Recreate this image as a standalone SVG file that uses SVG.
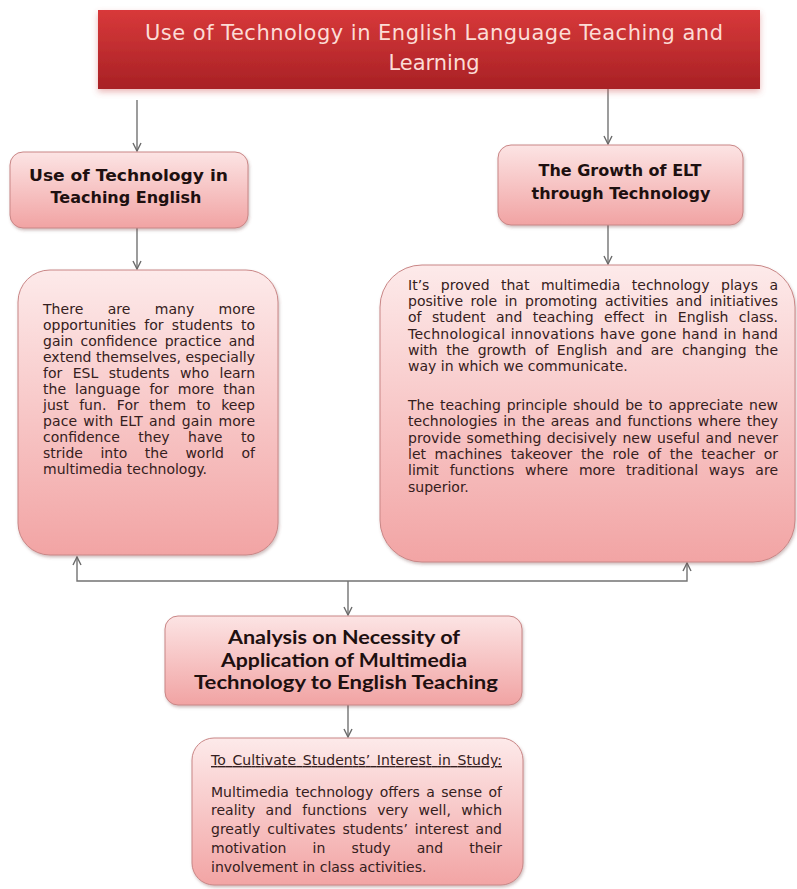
<svg xmlns="http://www.w3.org/2000/svg" width="797" height="889" viewBox="0 0 797 889">
  <style>
    .title { font-family: "DejaVu Sans", Verdana, sans-serif; font-size: 21px; fill: #fcdcd6; }
    .head { font-family: "DejaVu Sans", Verdana, sans-serif; font-size: 16px; font-weight: bold; fill: #1e1010; }
    .head3 { font-family: Lato, "Liberation Sans", sans-serif; font-size: 19px; font-weight: bold; fill: #1e1010; }
    .body { font-family: "DejaVu Sans", Verdana, sans-serif; font-size: 14px; fill: #352020; }
    .node { stroke: #c98686; stroke-width: 1; filter: url(#shadow); }
    .conn { fill: none; stroke: #737373; stroke-width: 1.4; }
  </style>
  <defs>
    <linearGradient id="redBar" x1="0" y1="0" x2="0" y2="1">
      <stop offset="0" stop-color="#d8393a"/>
      <stop offset="1" stop-color="#a82125"/>
    </linearGradient>
    <linearGradient id="pinkSmall" x1="0" y1="0" x2="0" y2="1">
      <stop offset="0" stop-color="#fce4e4"/>
      <stop offset="1" stop-color="#f1a3a3"/>
    </linearGradient>
    <linearGradient id="pinkLarge" x1="0" y1="0" x2="0" y2="1">
      <stop offset="0" stop-color="#fdeaea"/>
      <stop offset="1" stop-color="#f2a4a4"/>
    </linearGradient>
    <filter id="shadow" x="-10%" y="-10%" width="125%" height="130%">
      <feDropShadow dx="1" dy="2" stdDeviation="1.8" flood-color="#7a4a4a" flood-opacity="0.35"/>
    </filter>
    <filter id="barShadow" x="-5%" y="-20%" width="110%" height="150%">
      <feDropShadow dx="0" dy="3" stdDeviation="3" flood-color="#d06060" flood-opacity="0.45"/>
    </filter>
    <marker id="arrow" viewBox="0 0 10 10" refX="9" refY="5" markerWidth="10" markerHeight="10" markerUnits="userSpaceOnUse" orient="auto">
      <path d="M1,1 L9,5 L1,9" fill="none" stroke="#6b6b6b" stroke-width="1.4"/>
    </marker>
  </defs>

  <rect width="797" height="889" fill="#ffffff"/>

  <!-- connectors -->
  <g id="connectors" class="conn">
    <path d="M137,100 V151" marker-end="url(#arrow)"/>
    <path d="M608,89 V144" marker-end="url(#arrow)"/>
    <path d="M137,228 V269" marker-end="url(#arrow)"/>
    <path d="M608,225 V264" marker-end="url(#arrow)"/>
    <path d="M348,581 H77 V557" marker-end="url(#arrow)"/>
    <path d="M348,581 H687 V563" marker-end="url(#arrow)"/>
    <path d="M348,581 V615" marker-end="url(#arrow)"/>
    <path d="M348,705 V737" marker-end="url(#arrow)"/>
  </g>

  <!-- title bar -->
  <g id="title">
    <rect x="98" y="10" width="662" height="79" fill="url(#redBar)" filter="url(#barShadow)"/>
    <text class="title" x="145" y="40" textLength="578" lengthAdjust="spacing">Use of Technology in English Language Teaching and</text>
    <text class="title" x="434" y="70" text-anchor="middle">Learning</text>
  </g>

  <!-- left heading -->
  <g id="tech-teaching">
    <rect class="node" x="10" y="152" width="238" height="76" rx="13" fill="url(#pinkSmall)"/>
    <text class="head" x="29" y="181" textLength="199" lengthAdjust="spacingAndGlyphs">Use of Technology in</text>
    <text class="head" x="126" y="203" text-anchor="middle">Teaching English</text>
  </g>

  <!-- right heading -->
  <g id="growth-elt">
    <rect class="node" x="498" y="145" width="245" height="80" rx="13" fill="url(#pinkSmall)"/>
    <text class="head" x="620" y="176" text-anchor="middle">The Growth of ELT</text>
    <text class="head" x="621" y="199" text-anchor="middle">through Technology</text>
  </g>

  <!-- left detail box: justified lines use word-spacing, textLength trims the rest -->
  <g id="opportunities">
    <rect class="node" x="18" y="270" width="260" height="285" rx="32" fill="url(#pinkLarge)"/>
    <text class="body" x="43" y="314" word-spacing="19.8" textLength="212" lengthAdjust="spacing">There are many more</text>
    <text class="body" x="43" y="330" word-spacing="3.8" textLength="212" lengthAdjust="spacing">opportunities for students to</text>
    <text class="body" x="43" y="346" word-spacing="2.9" textLength="212" lengthAdjust="spacing">gain confidence practice and</text>
    <text class="body" x="43" y="362" textLength="212" lengthAdjust="spacing">extend themselves, especially</text>
    <text class="body" x="43" y="378" word-spacing="6" textLength="212" lengthAdjust="spacing">for ESL students who learn</text>
    <text class="body" x="43" y="394" word-spacing="4.6" textLength="212" lengthAdjust="spacing">the language for more than</text>
    <text class="body" x="43" y="410" word-spacing="6" textLength="212" lengthAdjust="spacing">just fun. For them to keep</text>
    <text class="body" x="43" y="426" word-spacing="1.6" textLength="212" lengthAdjust="spacing">pace with ELT and gain more</text>
    <text class="body" x="43" y="442" word-spacing="14" textLength="212" lengthAdjust="spacing">confidence they have to</text>
    <text class="body" x="43" y="458" word-spacing="13.1" textLength="212" lengthAdjust="spacing">stride into the world of</text>
    <text class="body" x="43" y="474">multimedia technology.</text>
  </g>

  <!-- right detail box -->
  <g id="multimedia-role">
    <rect class="node" x="380" y="265" width="415" height="297" rx="42" fill="url(#pinkLarge)"/>
    <text class="body" x="408" y="290" word-spacing="7" textLength="370" lengthAdjust="spacing">It’s proved that multimedia technology plays a</text>
    <text class="body" x="408" y="306" word-spacing="3.1" textLength="370" lengthAdjust="spacing">positive role in promoting activities and initiatives</text>
    <text class="body" x="408" y="322" word-spacing="6" textLength="370" lengthAdjust="spacing">of student and teaching effect in English class.</text>
    <text class="body" x="408" y="339" word-spacing="0.7" textLength="370" lengthAdjust="spacing">Technological innovations have gone hand in hand</text>
    <text class="body" x="408" y="355" word-spacing="4" textLength="370" lengthAdjust="spacing">with the growth of English and are changing the</text>
    <text class="body" x="408" y="371">way in which we communicate.</text>
    <text class="body" x="408" y="410" word-spacing="1.4" textLength="370" lengthAdjust="spacing">The teaching principle should be to appreciate new</text>
    <text class="body" x="408" y="426" word-spacing="1.4" textLength="370" lengthAdjust="spacing">technologies in the areas and functions where they</text>
    <text class="body" x="408" y="443" word-spacing="1" textLength="370" lengthAdjust="spacing">provide something decisively new useful and never</text>
    <text class="body" x="408" y="459" word-spacing="4.1" textLength="370" lengthAdjust="spacing">let machines takeover the role of the teacher or</text>
    <text class="body" x="408" y="475" word-spacing="6.3" textLength="370" lengthAdjust="spacing">limit functions where more traditional ways are</text>
    <text class="body" x="408" y="492">superior.</text>
  </g>

  <!-- analysis box -->
  <g id="analysis">
    <rect class="node" x="165" y="616" width="357" height="89" rx="13" fill="url(#pinkSmall)"/>
    <text class="head3" x="228" y="644" textLength="232" lengthAdjust="spacingAndGlyphs">Analysis on Necessity of</text>
    <text class="head3" x="221" y="667" textLength="246" lengthAdjust="spacingAndGlyphs">Application of Multimedia</text>
    <text class="head3" x="194" y="689" textLength="304" lengthAdjust="spacingAndGlyphs">Technology to English Teaching</text>
  </g>

  <!-- interest box -->
  <g id="interest">
    <rect class="node" x="192" y="738" width="331" height="147" rx="22" fill="url(#pinkLarge)"/>
    <text class="body" x="211" y="765" word-spacing="2" textLength="291" lengthAdjust="spacing" text-decoration="underline">To Cultivate Students’ Interest in Study:</text>
    <text class="body" x="211" y="797" word-spacing="2" textLength="291" lengthAdjust="spacing">Multimedia technology offers a sense of</text>
    <text class="body" x="211" y="815" word-spacing="5.9" textLength="291" lengthAdjust="spacing">reality and functions very well, which</text>
    <text class="body" x="211" y="834" word-spacing="2.5" textLength="291" lengthAdjust="spacing">greatly cultivates students’ interest and</text>
    <text class="body" x="211" y="853" word-spacing="21.8" textLength="291" lengthAdjust="spacing">motivation in study and their</text>
    <text class="body" x="211" y="872">involvement in class activities.</text>
  </g>
</svg>
